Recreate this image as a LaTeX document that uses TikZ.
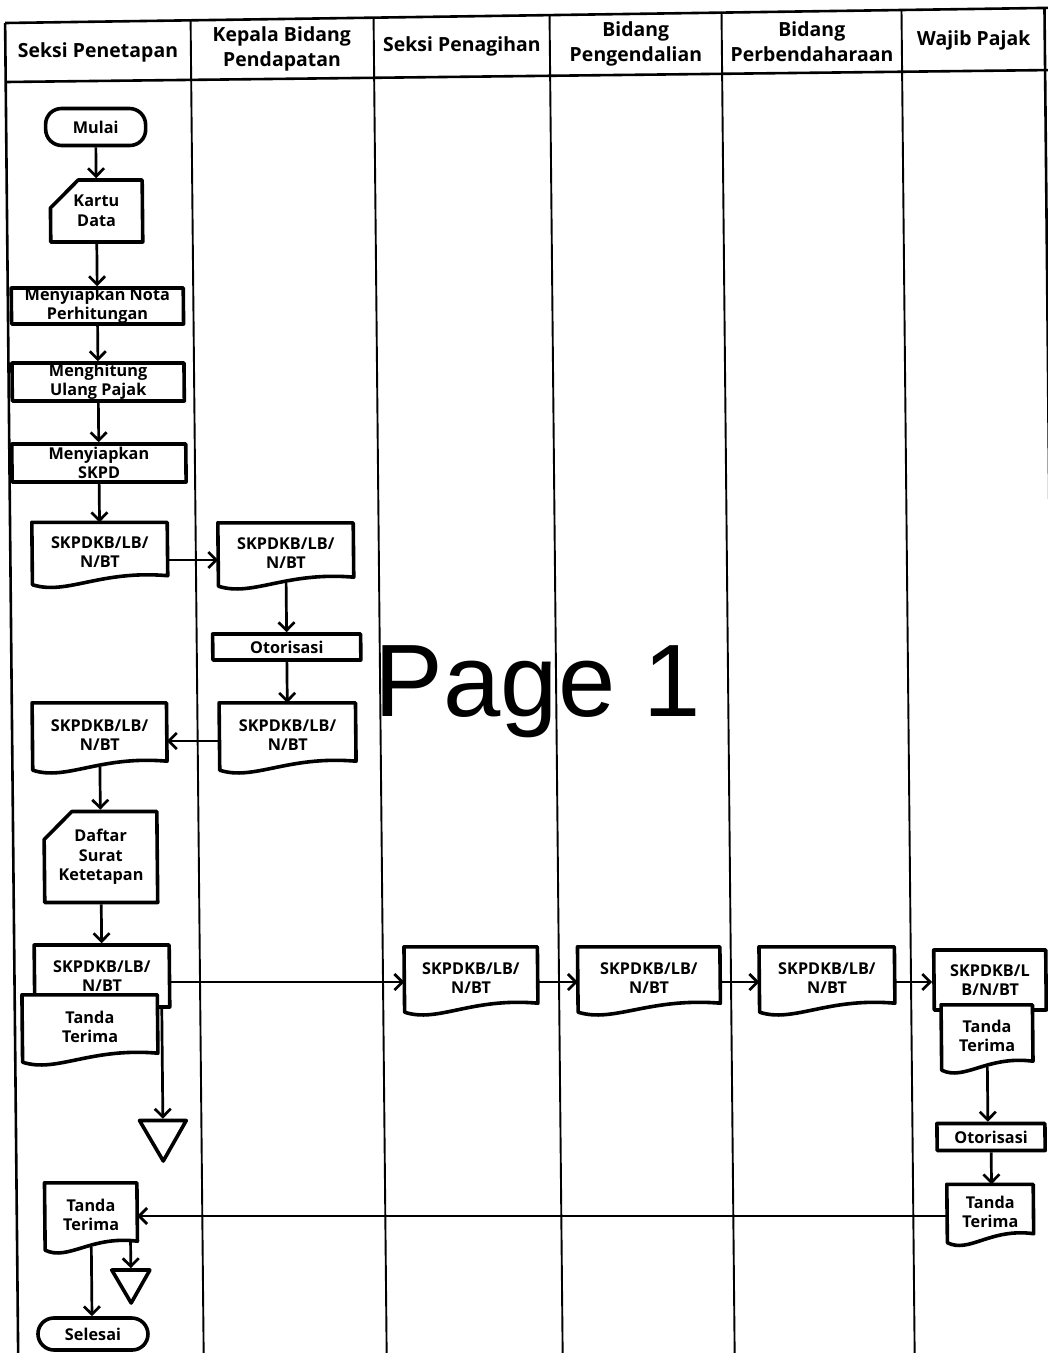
\documentclass[tikz,border=0pt]{standalone}
\usepackage{fontspec}
\setmainfont{Open Sans}
\newfontfamily\markfont{Liberation Sans}
\usetikzlibrary{arrows.meta,shapes.misc,shapes.geometric,calc}

\newcommand\boxfont{\bfseries\fontsize{16.3}{19.5}\selectfont}
\newcommand\headfont{\bfseries\fontsize{19.5}{25}\selectfont}

\tikzset{
  lane/.style={line width=1.9pt},
  framerule/.style={line width=2.6pt},
  shapeline/.style={draw, line width=3.6pt, line join=round},
  procbox/.style={rectangle, shapeline, fill=white, align=center, font=\boxfont, inner sep=0pt},
  termbox/.style={procbox, rounded corners=16pt},
  cardbox/.style={chamfered rectangle, chamfered rectangle corners=north west,
    chamfered rectangle xsep=14pt, chamfered rectangle ysep=14pt,
    shapeline, fill=white, align=center, font=\boxfont, inner sep=0pt},
  docarea/.style={rectangle, inner sep=0pt, draw=none},
  doctext/.style={align=center, font=\boxfont, inner sep=0pt},
  sinkbox/.style={regular polygon, regular polygon sides=3, shape border rotate=180,
    shapeline, inner sep=0pt},
  headtext/.style={align=center, font=\headfont, inner sep=0pt},
  arr/.style={line width=2.7pt, -{Straight Barb[length=8pt,width=16pt]}},
  pagemark/.style={font=\markfont\fontsize{103}{103}\selectfont, inner sep=0pt},
}

% document symbol: rectangle with a wavy lower edge
% #1 name, #2 centre, #3 width, #4 height, #5 text
\newcommand\docbox[5]{%
  \node[docarea, minimum width=#3, minimum height=#4] (#1) at (#2) {};
  \filldraw[shapeline, fill=white] (#1.north west) -- (#1.north east)
    -- ([yshift=14pt]#1.south east)
    .. controls ($(#1.south)+(0pt,20pt)$) and ($(#1.south)!0.5!(#1.south west)+(0pt,-6pt)$)
    .. ([yshift=5pt]#1.south west) -- cycle;
  \node[doctext] (#1-txt) at ([yshift=4pt]#1.center) {#5};
}

\begin{document}
\begin{tikzpicture}[x=1pt,y=-1pt]
\useasboundingbox (0,0) rectangle (1048,1353);
\fill[white] (0,0) rectangle (1048,1353);
\clip (0,0) rectangle (1048,1353);

% the sheet leans slightly: vertical rules drift right going down
\begin{scope}[cm={1,0,-0.0098,1,(-6.6pt,0pt)}, transform shape]
  % swimlane frame
  \draw[framerule] (11.5,23) -- (1060,7.8);
  \draw[framerule] (11.5,82) -- (1060,70);
  \draw[framerule] (11.5,23) -- (11.5,1400);
  \draw[framerule] (1051,8.8) -- (1051,1400);
  \foreach \lx/\ty in {197/20.5,380/17.8,556/15.3,728/12.8,908/10.2}
    \draw[lane] (\lx,\ty) -- (\lx,1400);

  % lane titles
  \node[headtext] (h1) at (104,52) {Seksi Penetapan};
  \node[headtext] (h2) at (288,49) {Kepala Bidang\\Pendapatan};
  \node[headtext] (h3) at (468,46.5) {Seksi Penagihan};
  \node[headtext] (h4) at (642,44) {Bidang\\Pengendalian};
  \node[headtext] (h5) at (818,42) {Bidang\\Perbendaharaan};
  \node[headtext] (h6) at (980,40) {Wajib Pajak};

  % Seksi Penetapan: preparation
  \node[termbox, minimum width=100pt, minimum height=37pt] (mulai) at (101,127) {Mulai};
  \node[cardbox, minimum width=92pt, minimum height=62pt] (kartu) at (101,211) {Kartu\\Data};
  \node[procbox, minimum width=172pt, minimum height=36pt] (nota) at (101,306) {Menyiapkan Nota\\Perhitungan};
  \node[procbox, minimum width=172pt, minimum height=38pt] (hitung) at (101,382) {Menghitung\\Ulang Pajak};
  \node[procbox, minimum width=174pt, minimum height=38pt] (skpd) at (101,463) {Menyiapkan\\SKPD};
  \docbox{d1}{101,556}{135pt}{67pt}{SKPDKB/LB/\\N/BT}

  % Kepala Bidang Pendapatan
  \docbox{k1}{287,557}{135pt}{68pt}{SKPDKB/LB/\\N/BT}
  \node[procbox, minimum width=148pt, minimum height=26pt] (oto1) at (287,647) {Otorisasi};
  \docbox{k2}{287,739}{136pt}{72pt}{SKPDKB/LB/\\N/BT}

  % Seksi Penetapan: distribution
  \docbox{d2}{99,739}{134pt}{72pt}{SKPDKB/LB/\\N/BT}
  \node[cardbox, minimum width=112pt, minimum height=91pt] (daftar) at (99,857) {Daftar\\Surat\\Ketetapan};
  \node[procbox, minimum width=135pt, minimum height=62pt] (d3back) at (99,976) {SKPDKB/LB/\\N/BT};
  \docbox{d3front}{86.5,1031}{135pt}{72pt}{Tanda\\Terima}
  \node[sinkbox, minimum size=54pt] (bigtri) at (158.5,1134) {};

  % copies passed along the lanes
  \docbox{pen}{468,982}{133pt}{70pt}{SKPDKB/LB/\\N/BT}
  \docbox{peng}{646,982}{142pt}{70pt}{SKPDKB/LB/\\N/BT}
  \docbox{perb}{824,982}{135pt}{70pt}{SKPDKB/LB/\\N/BT}

  % Wajib Pajak
  \node[procbox, minimum width=112pt, minimum height=60pt] (wpback) at (987,980) {SKPDKB/L\\B/N/BT};
  \docbox{wpfront}{983.5,1040}{91pt}{70pt}{Tanda\\Terima}
  \node[procbox, minimum width=108pt, minimum height=27pt] (oto2) at (986.5,1137) {Otorisasi};
  \docbox{wptt}{985,1216}{86pt}{63pt}{Tanda\\Terima}

  % return of the receipt
  \docbox{seksitt}{85.7,1219}{92pt}{72pt}{Tanda\\Terima}
  \node[sinkbox, minimum size=44pt] (smalltri) at (125,1281) {};
  \node[termbox, minimum width=110pt, minimum height=32pt] (selesai) at (86.5,1334) {Selesai};

  % connectors
  \draw[arr] (mulai.south) -- (kartu.north);
  \draw[arr] (kartu.south) -- (nota.north);
  \draw[arr] (nota.south) -- (hitung.north);
  \draw[arr] (hitung.south) -- (skpd.north);
  \draw[arr] (skpd.south) -- (d1.north);
  \draw[arr] ([yshift=-4pt]d1.east) -- ([yshift=-3pt]k1.west);
  \draw[arr] ([yshift=8pt]k1.south) -- (oto1.north);
  \draw[arr] (oto1.south) -- (k2.north);
  \draw[arr] ([yshift=-2pt]k2.west) -- ([yshift=-2pt]d2.east);
  \draw[arr] ([yshift=8pt]d2.south) -- (daftar.north);
  \draw[arr] (daftar.south) -- (d3back.north);
  \draw[arr] (d3back.east |- pen.west) -- (pen.west);
  \draw[arr] (pen.east) -- (peng.west);
  \draw[arr] (peng.east) -- (perb.west);
  \draw[arr] (perb.east) -- (wpback.west |- perb.east);
  \draw[arr] (bigtri.north |- d3back.south) -- (bigtri.north);
  \draw[arr] ([yshift=8pt]wpfront.south) -- (wpfront.south |- oto2.north);
  \draw[arr] (oto2.south) -- (oto2.south |- wptt.north);
  \draw[arr] (wptt.west) -- (seksitt.east |- wptt.west);
  \draw[arr] ($(seksitt.south -| smalltri.north)+(0pt,14pt)$) -- (smalltri.north);
  \draw[arr] ([yshift=8pt]seksitt.south) -- (seksitt.south |- selesai.north);
\end{scope}

\node[pagemark, anchor=base] (pagemark) at (538,716) {Page 1};
\end{tikzpicture}
\end{document}
